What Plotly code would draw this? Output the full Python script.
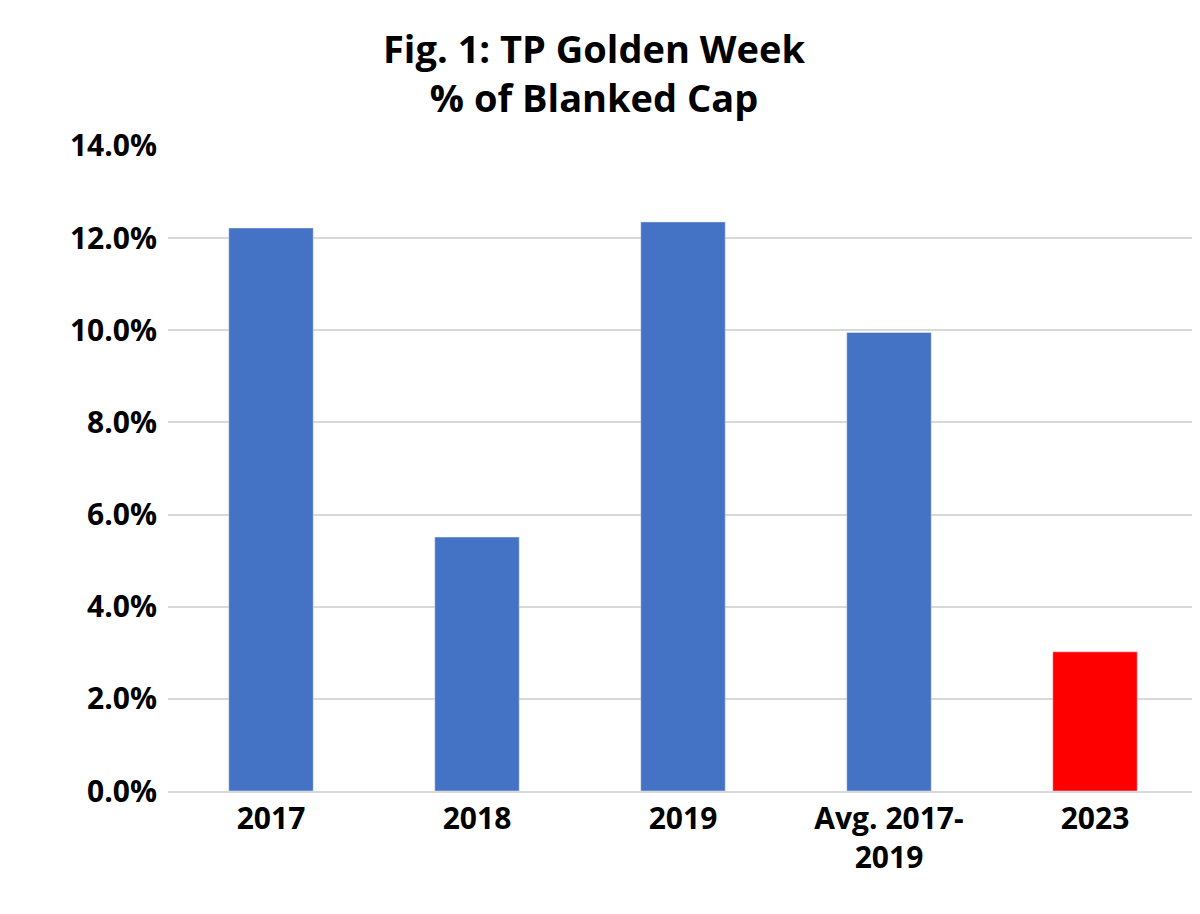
import plotly.graph_objects as go

categories = ["2017", "2018", "2019", "Avg. 2017-<br>2019", "2023"]
values = [0.1222, 0.0551, 0.1235, 0.0995, 0.0302]
colors = ["#4472C4", "#4472C4", "#4472C4", "#4472C4", "#FF0000"]

fig = go.Figure(go.Bar(x=categories, y=values, marker_color=colors, width=0.41))

fig.update_layout(
    width=1200, height=914,
    margin=dict(l=160, r=10, t=137, b=131),
    paper_bgcolor="white", plot_bgcolor="white",
    font=dict(family="Open Sans, Liberation Sans, sans-serif", color="black"),
    showlegend=False,
    annotations=[dict(text="<b>Fig. 1: TP Golden Week<br>% of Blanked Cap</b>",
                      x=585, xref="paper", y=1, yref="paper", showarrow=False,
                      font=dict(size=38), yanchor="bottom", yshift=20)],
)
fig.layout.annotations[0].x = 0.414
fig.update_yaxes(range=[0, 0.1402], dtick=0.02, tickformat=".1%",
                 gridcolor="#D9D9D9", gridwidth=2, zeroline=False,
                 tickfont=dict(size=30, family="Open Sans", weight="bold"),
                 ticklabelstandoff=10)
fig.update_xaxes(showline=True, linecolor="#D9D9D9", linewidth=2,
                 ticks="outside", tickcolor="#D9D9D9", ticklen=0,
                 tickfont=dict(size=30, family="Open Sans", weight="bold"))

fig.write_html("out.html")
